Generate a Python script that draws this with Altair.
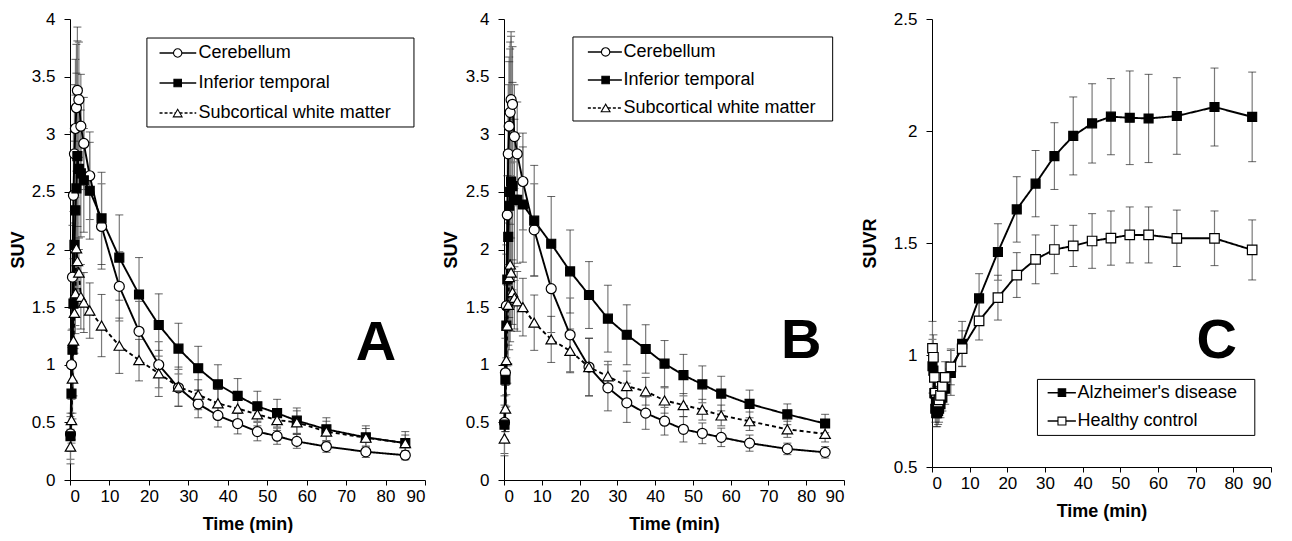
import altair as alt
import pandas as pd

FONT = "Liberation Sans"

# frame mid-times (min)
time = [0.125, 0.375, 0.625, 0.875, 1.125, 1.375, 1.625, 1.875, 2.25, 2.75, 3.5, 5, 8,
        12.5, 17.5, 22.5, 27.5, 32.5, 37.5, 42.5, 47.5, 52.5, 57.5, 65, 75, 85]

# Panel A (SUV)
a_cer = [0.40, 1.00, 1.76, 2.47, 2.83, 3.05, 3.23, 3.38, 3.30, 3.07, 2.92, 2.64, 2.20,
         1.68, 1.29, 1.00, 0.80, 0.66, 0.56, 0.49, 0.42, 0.38, 0.335, 0.29, 0.245, 0.215]
a_cer_sd = [0.15, 0.30, 0.45, 0.55, 0.60, 0.60, 0.55, 0.55, 0.50, 0.45, 0.40, 0.38, 0.37,
            0.30, 0.26, 0.20, 0.16, 0.12, 0.10, 0.09, 0.08, 0.07, 0.06, 0.05, 0.05, 0.04]
a_it = [0.38, 0.75, 1.13, 1.53, 2.04, 2.34, 2.53, 2.81, 2.70, 2.66, 2.60, 2.51, 2.27,
        1.93, 1.61, 1.345, 1.14, 0.97, 0.83, 0.73, 0.64, 0.58, 0.515, 0.44, 0.37, 0.32]
a_it_sd = [0.20, 0.40, 0.60, 0.80, 0.90, 1.00, 1.00, 1.00, 0.70, 0.55, 0.45, 0.42, 0.40,
           0.37, 0.32, 0.27, 0.22, 0.19, 0.17, 0.15, 0.13, 0.12, 0.11, 0.10, 0.10, 0.10]
a_wm = [0.29, 0.52, 0.88, 1.21, 1.45, 1.62, 2.01, 1.90, 1.80, 1.59, 1.54, 1.47, 1.34,
        1.165, 1.04, 0.925, 0.81, 0.74, 0.665, 0.62, 0.57, 0.52, 0.50, 0.42, 0.367, 0.32]
a_wm_sd = [0.15, 0.20, 0.30, 0.35, 0.35, 0.35, 0.35, 0.30, 0.30, 0.28, 0.26, 0.24, 0.27,
           0.24, 0.18, 0.20, 0.17, 0.13, 0.12, 0.10, 0.10, 0.09, 0.10, 0.09, 0.08, 0.07]

# Panel B (SUV)
b_cer = [0.50, 0.93, 1.51, 2.30, 2.83, 3.07, 3.19, 3.30, 3.26, 2.98, 2.83, 2.59, 2.17,
         1.66, 1.26, 0.98, 0.80, 0.67, 0.58, 0.51, 0.44, 0.405, 0.37, 0.32, 0.27, 0.24]
b_cer_sd = [0.15, 0.30, 0.45, 0.55, 0.60, 0.60, 0.55, 0.55, 0.50, 0.45, 0.45, 0.42, 0.40,
            0.38, 0.32, 0.25, 0.20, 0.17, 0.14, 0.12, 0.11, 0.09, 0.08, 0.07, 0.05, 0.05]
b_it = [0.48, 0.87, 1.34, 1.74, 2.11, 2.38, 2.50, 2.59, 2.55, 2.43, 2.43, 2.39, 2.25,
        2.05, 1.81, 1.605, 1.40, 1.26, 1.137, 1.01, 0.91, 0.83, 0.75, 0.66, 0.57, 0.49]
b_it_sd = [0.25, 0.45, 0.70, 0.90, 1.10, 1.25, 1.30, 1.30, 0.90, 0.70, 0.55, 0.50, 0.48,
           0.41, 0.36, 0.29, 0.29, 0.26, 0.21, 0.20, 0.18, 0.16, 0.15, 0.12, 0.09, 0.08]
b_wm = [0.36, 0.62, 1.04, 1.34, 1.52, 1.76, 1.87, 1.80, 1.63, 1.58, 1.55, 1.50, 1.365,
        1.22, 1.12, 0.98, 0.90, 0.815, 0.77, 0.69, 0.65, 0.61, 0.56, 0.51, 0.44, 0.40]
b_wm_sd = [0.15, 0.20, 0.30, 0.35, 0.35, 0.35, 0.35, 0.30, 0.28, 0.27, 0.26, 0.25, 0.24,
           0.20, 0.19, 0.25, 0.13, 0.13, 0.12, 0.11, 0.10, 0.09, 0.09, 0.08, 0.07, 0.07]

# Panel C (SUVR)
c_ad = [0.95, 0.93, 0.83, 0.76, 0.74, 0.74, 0.75, 0.76, 0.78, 0.81, 0.85, 0.92, 1.05,
        1.253, 1.46, 1.65, 1.765, 1.888, 1.978, 2.034, 2.064, 2.059, 2.056, 2.067, 2.107, 2.063]
c_ad_sd = [0.12, 0.10, 0.08, 0.06, 0.06, 0.06, 0.06, 0.06, 0.06, 0.06, 0.07, 0.10, 0.10,
           0.11, 0.126, 0.146, 0.148, 0.149, 0.174, 0.177, 0.17, 0.209, 0.197, 0.171, 0.174, 0.20]
c_hc = [1.03, 0.99, 0.90, 0.83, 0.80, 0.79, 0.79, 0.80, 0.82, 0.86, 0.90, 0.947, 1.028,
        1.152, 1.256, 1.357, 1.427, 1.471, 1.487, 1.509, 1.522, 1.536, 1.536, 1.521, 1.521, 1.469]
c_hc_sd = [0.12, 0.10, 0.08, 0.07, 0.06, 0.06, 0.06, 0.06, 0.06, 0.06, 0.07, 0.08, 0.08,
           0.085, 0.10, 0.10, 0.109, 0.108, 0.092, 0.122, 0.121, 0.125, 0.125, 0.126, 0.122, 0.134]

legend_a = ["Cerebellum", "Inferior temporal", "Subcortical white matter"]
legend_c = ["Alzheimer's disease", "Healthy control"]

STYLE = {
    "circle": dict(shape="circle", fill="white", size=100, dash=[1, 0]),
    "square": dict(shape="square", fill="black", size=80, dash=[1, 0]),
    "triangle": dict(shape="triangle-up", fill="white", size=110, dash=[4, 3]),
    "osquare": dict(shape="square", fill="white", size=90, dash=[1, 0]),
}


def make_df(vals, sds):
    return pd.DataFrame({
        "t": time, "v": vals, "sd": sds,
        "lo": [v - s for v, s in zip(vals, sds)],
        "hi": [v + s for v, s in zip(vals, sds)],
    })


def panel(series, ydom, yvals, ytitle, w, h, legend, letter, ytp):
    xscale = alt.Scale(domain=[0, 90], nice=False, zero=False)
    yscale = alt.Scale(domain=ydom, nice=False, zero=False)
    xaxis = alt.Axis(values=list(range(0, 91, 10)), title="Time (min)",
                     tickSize=5, labelPadding=3, titlePadding=11)
    yaxis = alt.Axis(values=yvals, format="~g", title=ytitle,
                     tickSize=6, labelPadding=9, titlePadding=ytp)

    def X(f):
        return alt.X(f, type="quantitative", scale=xscale, axis=xaxis)

    def Y(f):
        return alt.Y(f, type="quantitative", scale=yscale, axis=yaxis)

    bars, lines, points = [], [], []
    for vals, sds, key in series:
        st = STYLE[key]
        df = make_df(vals, sds)
        base = alt.Chart(df)
        bars.append(base.mark_rule(color="#7a7a7a", strokeWidth=1.2).encode(
            x=X("t"), y=Y("lo"), y2="hi"))
        bars.append(base.mark_tick(orient="horizontal", color="#222222", size=8,
                                   thickness=1).encode(x=X("t"), y=Y("hi")))
        bars.append(base.mark_tick(orient="horizontal", color="#222222", size=8,
                                   thickness=1).encode(x=X("t"), y=Y("lo")))
        lines.append(base.mark_line(color="black", strokeWidth=1.9,
                                    strokeDash=st["dash"]).encode(x=X("t"), y=Y("v")))
        points.append(base.mark_point(shape=st["shape"], filled=True, fill=st["fill"],
                                      stroke="black", strokeWidth=1.2, size=st["size"],
                                      opacity=1).encode(x=X("t"), y=Y("v")))

    # legend (placed in data coordinates)
    box, rows, sym, labels = legend
    box_df = pd.DataFrame([box])
    leg = [alt.Chart(box_df).mark_rect(fill="white", stroke="black", strokeWidth=1).encode(
        x=X("x1"), x2="x2", y=Y("y1"), y2="y2")]
    for (ly, key), lab in zip(rows, labels):
        st = STYLE[key]
        d = pd.DataFrame([{"x1": sym[0], "x2": sym[1], "xm": sym[2], "xt": sym[3],
                           "y": ly, "label": lab}])
        c = alt.Chart(d)
        leg.append(c.mark_rule(color="black", strokeWidth=1.5,
                               strokeDash=[3, 2] if key == "triangle" else [1, 0]).encode(
            x=X("x1"), x2="x2", y=Y("y")))
        leg.append(c.mark_point(shape=st["shape"], filled=True, fill=st["fill"],
                                stroke="black", strokeWidth=1.1, size=st["size"] * 0.7,
                                opacity=1).encode(x=X("xm"), y=Y("y")))
        leg.append(c.mark_text(align="left", baseline="middle", font=FONT, fontSize=18,
                               color="black").encode(x=X("xt"), y=Y("y"), text="label:N"))

    let_df = pd.DataFrame([letter])
    let_mark = alt.Chart(let_df).mark_text(align="center", baseline="alphabetic", font=FONT,
                                           fontSize=56, fontWeight="bold",
                                           color="black").encode(
        x=X("x"), y=Y("y"), text="txt:N")

    return alt.layer(*bars, *lines, *points, *leg, let_mark).properties(width=w, height=h)


pA = panel([(a_cer, a_cer_sd, "circle"), (a_it, a_it_sd, "square"), (a_wm, a_wm_sd, "triangle")],
           [0, 4], [0, 0.5, 1, 1.5, 2, 2.5, 3, 3.5, 4], "SUV", 355, 461,
           ({"x1": 19.5, "x2": 87.2, "y1": 3.835, "y2": 3.063},
            [(3.705, "circle"), (3.445, "square"), (3.184, "triangle")],
            (22.7, 32.0, 27.3, 32.6), legend_a),
           {"x": 77.6, "y": 1.04, "txt": "A"}, 4)

pB = panel([(b_cer, b_cer_sd, "circle"), (b_it, b_it_sd, "square"), (b_wm, b_wm_sd, "triangle")],
           [0, 4], [0, 0.5, 1, 1.5, 2, 2.5, 3, 3.5, 4], "SUV", 340, 461,
           ({"x1": 18.25, "x2": 87.0, "y1": 3.844, "y2": 3.115},
            [(3.714, "circle"), (3.471, "square"), (3.228, "triangle")],
            (22.2, 31.2, 26.9, 31.6), legend_a),
           {"x": 78.7, "y": 1.06, "txt": "B"}, 5)

pC = panel([(c_ad, c_ad_sd, "square"), (c_hc, c_hc_sd, "osquare")],
           [0.5, 2.5], [0.5, 1, 1.5, 2, 2.5], "SUVR", 339, 448,
           ({"x1": 28.0, "x2": 85.7, "y1": 0.891, "y2": 0.641},
            [(0.832, "square"), (0.705, "osquare")],
            (30.7, 38.2, 34.5, 38.6), legend_c),
           {"x": 75.6, "y": 0.988, "txt": "C"}, 14)

chart = alt.hconcat(pA, pB, pC, spacing=16).properties(
    padding={"left": 1, "right": 0, "top": 2, "bottom": 0}
).configure_view(stroke=None).configure_axis(
    grid=False, domainColor="black", tickColor="black", labelColor="black", titleColor="black",
    labelFont=FONT, titleFont=FONT, labelFontSize=17, titleFontSize=18, titleFontWeight="bold",
    domainWidth=1, tickWidth=1
)

chart.save("out.html", embed_options={"renderer": "svg", "actions": False})
